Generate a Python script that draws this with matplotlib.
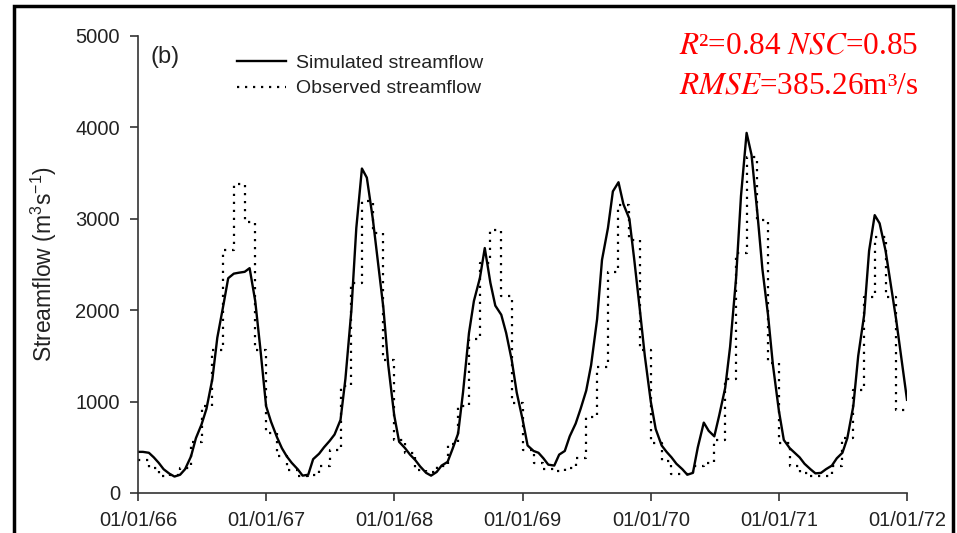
import pandas as pd
import matplotlib
matplotlib.use("Agg")
import matplotlib.pyplot as plt
import matplotlib.dates as mdates
from matplotlib.patches import Rectangle

# semi-monthly simulated streamflow (m3/s), 1st and 15th of each month, 1966-01-01 .. 1972-01-01
sim_1966 = [450, 450, 440, 390, 330, 260, 210, 180, 200, 260, 400, 600,
            750, 920, 1250, 1700, 2050, 2350, 2400, 2410, 2420, 2460, 2100, 1600]
sim_1967 = [950, 780, 610, 490, 400, 330, 260, 190, 200, 370, 430, 500,
            570, 640, 800, 1250, 2000, 2900, 3550, 3450, 3000, 2550, 2030, 1400]
sim_1968 = [850, 560, 490, 420, 360, 290, 220, 190, 230, 300, 340, 480,
            650, 1100, 1750, 2100, 2350, 2680, 2300, 2050, 1950, 1750, 1450, 1100]
sim_1969 = [800, 520, 460, 440, 380, 310, 300, 420, 460, 620, 760, 920,
            1120, 1400, 1900, 2550, 2900, 3300, 3400, 3160, 3000, 2550, 2000, 1500]
sim_1970 = [1000, 700, 520, 450, 390, 320, 260, 200, 220, 500, 770, 680,
            620, 850, 1150, 1600, 2350, 3250, 3940, 3700, 3050, 2450, 1950, 1400]
sim_1971 = [900, 580, 490, 440, 390, 320, 260, 215, 220, 260, 300, 380,
            440, 600, 950, 1500, 1950, 2650, 3040, 2950, 2650, 2300, 1900, 1500]
sim_end = [1020]

# monthly observed streamflow (m3/s), Jan 1966 .. Dec 1971
obs_1966 = [360, 270, 190, 200, 270, 560, 950, 1560, 2660, 3380, 2960, 1560]
obs_1967 = [655, 400, 250, 190, 200, 300, 470, 1170, 2300, 3200, 2840, 1455]
obs_1968 = [580, 440, 250, 230, 290, 540, 950, 1680, 2520, 2880, 2150, 990]
obs_1969 = [470, 330, 260, 240, 270, 380, 830, 1380, 2420, 3150, 2770, 1565]
obs_1970 = [550, 350, 210, 210, 300, 330, 580, 1250, 2630, 3680, 2990, 1420]
obs_1971 = [550, 300, 220, 190, 190, 300, 600, 1130, 2140, 2800, 2140, 910]

sim = sim_1966 + sim_1967 + sim_1968 + sim_1969 + sim_1970 + sim_1971 + sim_end
obs = obs_1966 + obs_1967 + obs_1968 + obs_1969 + obs_1970 + obs_1971

sim_dates = pd.date_range("1966-01-01", "1972-01-01", freq="SMS")
obs_dates = pd.date_range("1966-01-01", "1972-01-01", freq="MS")
obs_step = obs + [obs[-1]]

tick_dates = pd.date_range("1966-01-01", "1972-01-01", freq="YS")

plt.rcParams["font.family"] = ["Liberation Sans", "DejaVu Sans"]
plt.rcParams["mathtext.fontset"] = "custom"
plt.rcParams["mathtext.rm"] = "Liberation Sans"
plt.rcParams["mathtext.it"] = "Liberation Sans:italic"

fig = plt.figure(figsize=(9.57, 5.33), dpi=100)
ax = fig.add_axes([138 / 957, 1 - 493 / 533, 769 / 957, 457 / 533])

ax.plot(sim_dates, sim, color="black", lw=1.7, label="Simulated streamflow")
ax.step(obs_dates, obs_step, where="post", color="black", lw=1.6,
        linestyle=(0, (1, 2.6)), label="Observed streamflow")

ax.set_xlim(tick_dates[0], tick_dates[-1])
ax.set_ylim(0, 5000)
ax.set_xticks(tick_dates)
ax.xaxis.set_major_formatter(mdates.DateFormatter("%m/%d/%y"))
ax.set_yticks([0, 1000, 2000, 3000, 4000, 5000])

text_color = "#222222"
for side in ["top", "right"]:
    ax.spines[side].set_visible(False)
for side in ["left", "bottom"]:
    ax.spines[side].set_color("#333333")
    ax.spines[side].set_linewidth(1.2)
ax.tick_params(direction="out", length=6, width=1.2, color="#333333",
               labelsize=14.5, labelcolor=text_color, pad=7)

ax.set_ylabel("Streamflow (m$^3$s$^{-1}$)", fontsize=16.5, color=text_color, labelpad=12)

fig.text(150 / 957, 1 - 57 / 533, "(b)", fontsize=17, color=text_color, va="center")

ax.legend(loc="upper left", bbox_to_anchor=(237 / 957, 1 - 54 / 533),
          bbox_transform=fig.transFigure, frameon=False, fontsize=14,
          handlelength=2.5, handletextpad=0.55, labelspacing=0.42,
          borderpad=0, borderaxespad=0, labelcolor=text_color)

# statistics in red, Times-like serif
stat_kw = dict(fontsize=22.5, color="red", ha="right", va="baseline",
               family="Liberation Serif", math_fontfamily="stix")
fig.text(918 / 957, 1 - 54 / 533, r"$\it{R}$²=0.84 $\it{NSC}$=0.85", **stat_kw)
fig.text(918 / 957, 1 - 93 / 533, r"$\it{RMSE}$=385.26m³/s", **stat_kw)

# frame around the whole panel
fig.patches.append(Rectangle((14 / 957, -0.05), 939 / 957, 1.05 - 6 / 533,
                             transform=fig.transFigure, fill=False,
                             edgecolor="black", lw=2.5, clip_on=False))

fig.savefig("out.png", dpi=100)
